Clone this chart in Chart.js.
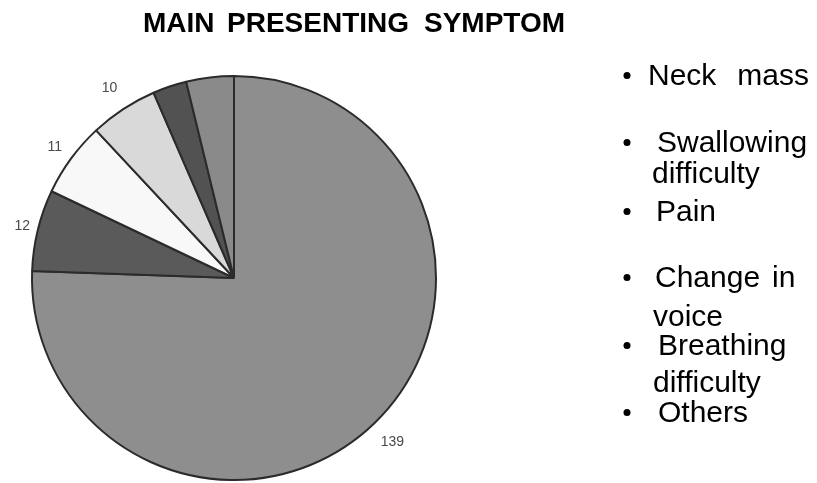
<!DOCTYPE html>
<html>
<head>
<meta charset="utf-8">
<title>Main presenting symptom</title>
<script src="https://cdn.jsdelivr.net/npm/chart.js@4/dist/chart.umd.min.js"></script>
<style>
  html, body { margin: 0; padding: 0; background: #ffffff; }
  #wrap { position: relative; width: 817px; height: 483px; }
</style>
</head>
<body>
<div id="wrap"><canvas id="chart" width="817" height="483"></canvas></div>
<script>
// Symptoms and number of patients, clockwise from 12 o'clock
const symptoms = ['Neck mass', 'Swallowing difficulty', 'Pain', 'Change in voice', 'Breathing difficulty', 'Others'];
const patients = [139, 12, 11, 10, 5, 7];
const showValue = [true, true, true, true, false, false];
const sliceColors = ['#8e8e8e', '#5a5a5a', '#f8f8f8', '#d9d9d9', '#525252', '#8a8a8a'];
// how far past the rim each value label sits
const labelOffsets = [26, 16, 20, 25, 0, 0];

// Legend text, broken onto lines as printed beside the pie
const legendLines = [
  { bullet: true,  text: 'Neck mass', gap: 21 },
  { bullet: true,  text: 'Swallowing' },
  { bullet: false, text: 'difficulty' },
  { bullet: true,  text: 'Pain' },
  { bullet: true,  text: 'Change in', gap: 12 },
  { bullet: false, text: 'voice' },
  { bullet: true,  text: 'Breathing' },
  { bullet: false, text: 'difficulty' },
  { bullet: true,  text: 'Others' }
];
const legendBaselines = [85, 152, 183, 221, 287, 326, 355, 392, 422];
const legendTextX = [648, 657, 652, 656, 655, 653, 658, 653, 658];

// Title words and their left edges
const titleWords = ['MAIN', 'PRESENTING', 'SYMPTOM'];
const titleWordX = [143, 227, 424];

function drawWords(ctx, text, x, y, gap) {
  const words = text.split(' ');
  let cx = x;
  words.forEach((w) => {
    ctx.fillText(w, cx, y);
    cx += ctx.measureText(w).width + gap;
  });
}

// Value labels just outside the rim, plus title and bullet legend
const decorations = {
  id: 'decorations',
  afterDraw(chart) {
    const ctx = chart.ctx;
    const meta = chart.getDatasetMeta(0);
    ctx.save();

    // value labels
    ctx.fillStyle = '#4a4a4a';
    ctx.font = '14px "Liberation Sans", Arial, sans-serif';
    ctx.textAlign = 'center';
    ctx.textBaseline = 'middle';
    meta.data.forEach((arc, i) => {
      if (!showValue[i]) return;
      const p = arc.getProps(['x', 'y', 'startAngle', 'endAngle', 'outerRadius'], true);
      const mid = (p.startAngle + p.endAngle) / 2;
      const r = p.outerRadius + labelOffsets[i];
      ctx.fillText(String(patients[i]), p.x + Math.cos(mid) * r, p.y + Math.sin(mid) * r);
    });

    // title
    ctx.fillStyle = '#000000';
    ctx.font = 'bold 28px "Liberation Sans", Arial, sans-serif';
    ctx.textAlign = 'left';
    ctx.textBaseline = 'alphabetic';
    titleWords.forEach((w, i) => ctx.fillText(w, titleWordX[i], 32));

    // legend
    ctx.font = '30px "Liberation Sans", Arial, sans-serif';
    legendLines.forEach((line, i) => {
      const y = legendBaselines[i];
      drawWords(ctx, line.text, legendTextX[i], y, line.gap || ctx.measureText(' ').width);
      if (line.bullet) {
        ctx.beginPath();
        ctx.arc(627, y - 9.5, 3.5, 0, Math.PI * 2);
        ctx.fill();
      }
    });
    ctx.restore();
  }
};

new Chart(document.getElementById('chart'), {
  type: 'pie',
  data: {
    labels: symptoms,
    datasets: [{
      data: patients,
      backgroundColor: sliceColors,
      borderColor: '#2b2b2b',
      borderWidth: 2
    }]
  },
  options: {
    responsive: false,
    animation: false,
    layout: { padding: { left: 31, right: 380, top: 75, bottom: 2 } },
    plugins: {
      legend: { display: false },
      title: { display: false },
      tooltip: { enabled: false }
    }
  },
  plugins: [decorations]
});
</script>
</body>
</html>
